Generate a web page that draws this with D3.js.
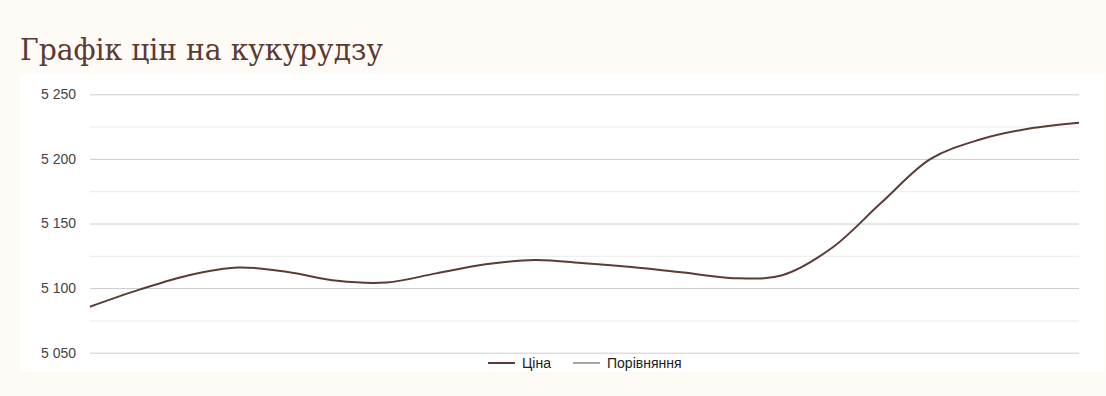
<!DOCTYPE html>
<html>
<head>
<meta charset="utf-8">
<script src="https://cdn.jsdelivr.net/npm/d3@7"></script>
<style>
  html, body { margin: 0; padding: 0; background: #fefbf7; }
  svg { display: block; }
</style>
</head>
<body>
<svg id="graph" width="1106" height="396"></svg>
<script>
// trading days of the month (x axis has no visible labels)
const days = ["1", "2", "3", "4", "5", "6", "7", "8", "9", "10", "11",
  "12", "13", "14", "15", "16", "17", "18", "19", "20", "21"];
// price
const price = [5085.6, 5098.8, 5110, 5116, 5112.5, 5105.6, 5104.3, 5111.4, 5118.4,
  5121.8, 5119.3, 5116.1, 5112, 5107.7, 5110, 5131, 5166, 5200, 5215, 5223.5, 5228];
const majorTicks = [5050, 5100, 5150, 5200, 5250];
const minorTicks = [5075, 5125, 5175, 5225];
const seriesNames = ["Ціна", "Порівняння"];
const seriesColors = ["#5b3b36", "#a9a794"];

const width = 1106;
const height = 396;
const margin = { top: 94.3, right: 27, bottom: 43.3, left: 90 };

const svg = d3.select("#graph").attr("viewBox", [0, 0, width, height]);

// white chart panel
svg.append("rect")
  .attr("x", 20).attr("y", 74)
  .attr("width", 1085).attr("height", 298)
  .attr("fill", "#ffffff");

svg.append("text")
  .attr("x", 20)
  .attr("y", 60)
  .attr("fill", "#5a3a33")
  .attr("font-family", "'DejaVu Serif', serif")
  .attr("font-size", 29)
  .attr("textLength", 363)
  .attr("lengthAdjust", "spacingAndGlyphs")
  .text("Графік цін на кукурудзу");

const x = d3.scalePoint()
  .domain(days)
  .range([margin.left, width - margin.right]);

const y = d3.scaleLinear()
  .domain([5050, 5250])
  .range([height - margin.bottom, margin.top]);

// minor gridlines
svg.append("g")
  .attr("transform", `translate(${margin.left},0)`)
  .call(d3.axisLeft(y).tickValues(minorTicks).tickSize(-(width - margin.right - margin.left)).tickFormat(""))
  .call((g) => g.select(".domain").remove())
  .call((g) => g.selectAll(".tick line").attr("stroke", "#ebebeb"));

// major gridlines + labels
svg.append("g")
  .attr("transform", `translate(${margin.left},0)`)
  .call(d3.axisLeft(y).tickValues(majorTicks).tickSize(-(width - margin.right - margin.left))
    .tickPadding(14)
    .tickFormat((d) => d3.format(",")(d).replace(",", " ")))
  .call((g) => g.select(".domain").remove())
  .call((g) => g.selectAll(".tick line").attr("stroke", "#cccccc"))
  .call((g) => g.selectAll(".tick text")
    .attr("fill", "#444")
    .attr("font-family", "Arial, 'Liberation Sans', sans-serif")
    .attr("font-size", 14));

const line = d3.line()
  .x((d, i) => x(days[i]))
  .y((d) => y(d))
  .curve(d3.curveCatmullRom.alpha(0.5));

svg.append("path")
  .datum(price)
  .attr("fill", "none")
  .attr("stroke", seriesColors[0])
  .attr("stroke-width", 2)
  .attr("d", line);

// legend
const legendX = [488, 573];
const legend = svg.append("g")
  .selectAll("g")
  .data(seriesNames)
  .join("g")
  .attr("transform", (d, i) => `translate(${legendX[i]},363)`);

legend.append("line")
  .attr("x1", 0).attr("x2", 27)
  .attr("stroke", (d, i) => seriesColors[i])
  .attr("stroke-width", 2);

legend.append("text")
  .attr("x", 34)
  .attr("dy", "0.35em")
  .attr("fill", "#222")
  .attr("font-family", "Arial, 'Liberation Sans', sans-serif")
  .attr("font-size", 14)
  .text((d) => d);
</script>
</body>
</html>
